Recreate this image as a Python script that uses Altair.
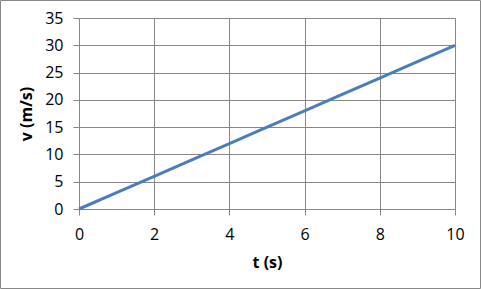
import altair as alt
import pandas as pd

t_values = [0, 1, 2, 3, 4, 5, 6, 7, 8, 9, 10]
v_values = [0, 3, 6, 9, 12, 15, 18, 21, 24, 27, 30]
x_ticks = [0, 2, 4, 6, 8, 10]
y_ticks = [0, 5, 10, 15, 20, 25, 30, 35]

df = pd.DataFrame({"t": t_values, "v": v_values})

FONT = "Open Sans"
GRID = "#878787"

W, H = 376, 191
PL, PT = 79, 18

line = alt.Chart(df).mark_line(color="#4A7EBB", strokeWidth=3, clip=False).encode(
    x=alt.X("t:Q", scale=alt.Scale(domain=[0, 10], nice=False),
            axis=alt.Axis(values=x_ticks, title="t (s)", grid=True, tickSize=6,
                          labelPadding=11, titlePadding=12, labelFlush=False,
                          labelOverlap=False)),
    y=alt.Y("v:Q", scale=alt.Scale(domain=[0, 35], nice=False),
            axis=alt.Axis(values=y_ticks, title="v (m/s)", grid=True, tickSize=6,
                          labelPadding=10, titlePadding=10, labelFlush=False,
                          labelOverlap=False)),
)

border = alt.Chart(pd.DataFrame({"a": [0]})).mark_rect(
    fill=None, fillOpacity=0, stroke="#888888", strokeWidth=1, clip=False
).encode(
    x=alt.value(-PL + 0.5),
    x2=alt.value(480.5 - PL),
    y=alt.value(-PT + 0.5),
    y2=alt.value(288.5 - PT),
)

chart = alt.layer(border, line).properties(
    width=W, height=H,
    autosize=alt.AutoSizeParams(type="none"),
    padding={"left": PL, "top": PT, "right": 481 - PL - W, "bottom": 289 - PT - H},
    background="white",
).configure_view(stroke=None).configure_axis(
    domainColor=GRID, gridColor=GRID, tickColor=GRID, gridWidth=1, domainWidth=1,
    labelFont=FONT, labelFontSize=16, labelColor="#000000",
    titleFont=FONT, titleFontSize=16, titleFontWeight="bold", titleColor="#000000",
)

chart.save("out.html", embed_options={"renderer": "svg", "actions": False})
